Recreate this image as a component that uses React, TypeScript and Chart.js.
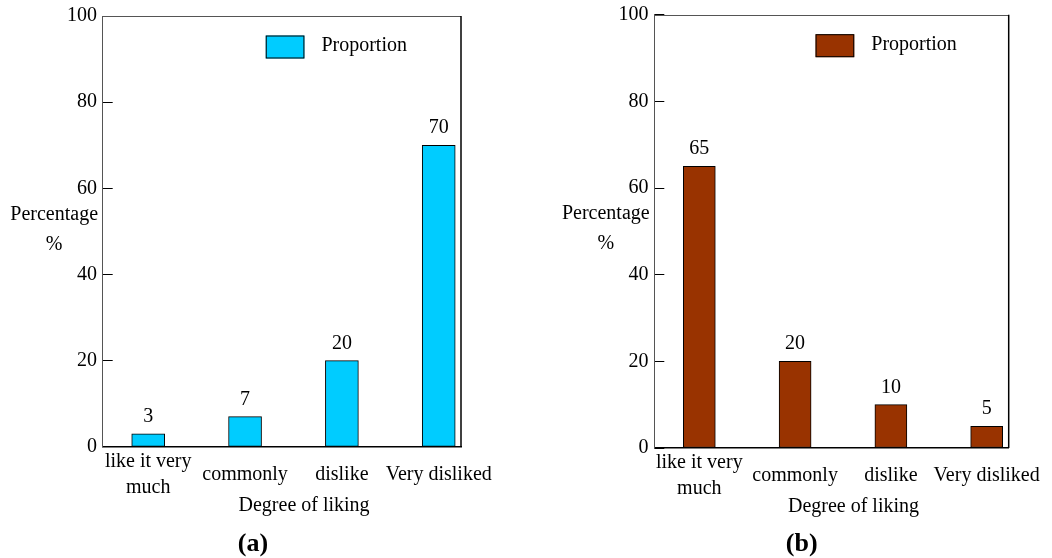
import React, { useEffect, useRef } from 'react';
import { Chart, registerables } from 'chart.js';

Chart.register(...registerables);

// ---- data ----
const categories: (string | string[])[] = [['like it very', 'much'], 'commonly', 'dislike', 'Very disliked'];
const seriesName = 'Proportion';
const valuesA = [3, 7, 20, 70];
const valuesB = [65, 20, 10, 5];
const yMin = 0;
const yMax = 100;
const yStep = 20;
const yTitleLines = ['Percentage', '%'];
const xTitle = 'Degree of liking';
const panelTitles = ['(a)', '(b)'];

const FONT = '"Liberation Serif", "Times New Roman", serif';

type Panel = {
  values: number[];
  color: string;
  title: string;
  padLeft: number;
  padRight: number;
  padTop: number;
  yWidth: number;
  xHeight: number;
  barThickness: number;
};

const panels: Panel[] = [
  { values: valuesA, color: '#00CCFF', title: panelTitles[0], padLeft: 45, padRight: 65, padTop: 16, yWidth: 57.7, xHeight: 77, barThickness: 33 },
  { values: valuesB, color: '#993300', title: panelTitles[1], padLeft: 68.7, padRight: 43.3, padTop: 14.7, yWidth: 59.6, xHeight: 75.8, barThickness: 32 },
];

const decorPlugin = {
  id: 'decor',
  afterDatasetsDraw(chart: any) {
    const { ctx, chartArea } = chart;
    const { left, right, top, bottom } = chartArea;
    const ds = chart.data.datasets[0];
    const meta = chart.getDatasetMeta(0);
    ctx.save();
    // frame top and right
    ctx.lineWidth = 1;
    ctx.strokeStyle = '#555';
    ctx.beginPath();
    ctx.moveTo(left, Math.round(top) + 0.5);
    ctx.lineTo(right, Math.round(top) + 0.5);
    ctx.stroke();
    ctx.strokeStyle = '#000';
    ctx.lineWidth = 1.5;
    ctx.beginPath();
    ctx.moveTo(right, top);
    ctx.lineTo(right, bottom);
    ctx.stroke();

    // value labels
    ctx.font = `20px ${FONT}`;
    ctx.fillStyle = '#000';
    ctx.textAlign = 'center';
    ctx.textBaseline = 'alphabetic';
    meta.data.forEach((bar: any, i: number) => {
      ctx.fillText(String(ds.data[i].y), bar.x, bar.y - 12);
    });

    // legend inside plot
    const w = right - left;
    const bx = left + 0.455 * w;
    const by = top + 19.5;
    const bw = 38.7;
    const bh = 23;
    ctx.fillStyle = ds.backgroundColor;
    ctx.fillRect(bx, by, bw, bh);
    ctx.strokeStyle = '#000';
    ctx.lineWidth = 1;
    ctx.strokeRect(bx + 0.5, by + 0.5, bw - 1, bh - 1);
    ctx.fillStyle = '#000';
    ctx.textAlign = 'left';
    ctx.textBaseline = 'middle';
    ctx.fillText(ds.label, bx + bw + 17, by + bh / 2 - 1);

    // y title (horizontal)
    ctx.textAlign = 'center';
    ctx.fillText(yTitleLines[0], left - 48.5, top + 199);
    ctx.fillText(yTitleLines[1], left - 48.5, top + 229);

    // x title
    ctx.fillText(xTitle, left + 0.562 * w, bottom + 59);
    ctx.restore();
  },
};

function PanelChart({ panel }: { panel: Panel }) {
  const ref = useRef<HTMLCanvasElement>(null);
  useEffect(() => {
    if (!ref.current) return;
    const chart = new Chart(ref.current, {
      type: 'bar',
      data: {
        datasets: [
          {
            label: seriesName,
            data: panel.values.map((v, i) => ({ x: i, y: v })),
            backgroundColor: panel.color,
            borderColor: '#000',
            borderWidth: 1,
            borderSkipped: false,
            barThickness: panel.barThickness,
          },
        ],
      },
      options: {
        responsive: false,
        animation: false,
        devicePixelRatio: 1,
        layout: { padding: { left: panel.padLeft, right: panel.padRight, top: panel.padTop, bottom: 0 } },
        plugins: {
          legend: { display: false },
          tooltip: { enabled: false },
          title: {
            display: true,
            position: 'bottom',
            text: panel.title,
            color: '#000',
            font: { family: FONT, size: 26, weight: 'bold' },
            padding: { top: 5, bottom: -2 },
          },
        },
        scales: {
          x: {
            type: 'linear',
            offset: false,
            min: -0.47,
            max: 3.23,
            grid: { display: false, drawTicks: false },
            border: { display: true, color: '#000', width: 1.5 },
            ticks: {
              stepSize: 1,
              includeBounds: false,
              autoSkip: false,
              maxRotation: 0,
              color: '#000',
              padding: 15,
              crossAlign: 'center',
              font: { family: FONT, size: 20, lineHeight: 1.3 },
              callback: (v: any) => (Number.isInteger(v) && categories[v] !== undefined ? categories[v] : ''),
            },
            afterFit: (s: any) => {
              s.height = panel.xHeight;
              s.paddingLeft = 0;
              s.paddingRight = 0;
            },
          },
          y: {
            min: yMin,
            max: yMax,
            grid: { display: true, drawOnChartArea: false, drawTicks: true, tickLength: -10, color: '#000' },
            border: { display: true, color: '#555', width: 1 },
            ticks: {
              stepSize: yStep,
              color: '#000',
              padding: 15.7,
              font: { family: FONT, size: 20 },
            },
            afterFit: (s: any) => {
              s.width = panel.yWidth;
              s.paddingTop = 0;
              s.paddingBottom = 0;
            },
          },
        },
      },
      plugins: [decorPlugin],
    } as any);
    return () => chart.destroy();
  }, [panel]);
  return <canvas ref={ref} width={526} height={558} style={{ display: 'block' }} />;
}

export default function App() {
  return (
    <div style={{ position: 'fixed', left: 0, top: 0, width: 1052, height: 558, display: 'flex', background: '#fff' }}>
      {panels.map((p, i) => (
        <PanelChart key={i} panel={p} />
      ))}
    </div>
  );
}
